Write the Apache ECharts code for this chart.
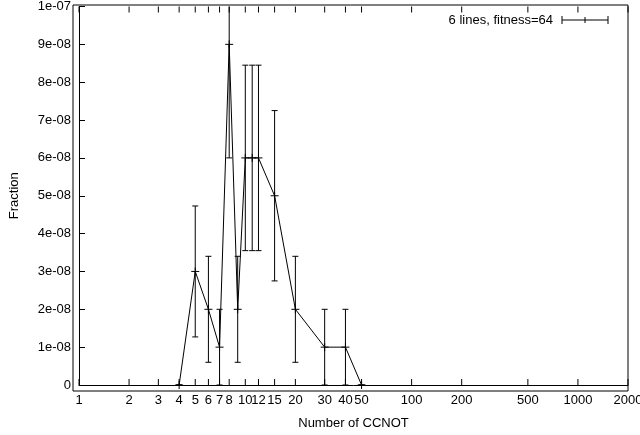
<!DOCTYPE html><html><head><meta charset="utf-8"><script src="https://cdn.jsdelivr.net/npm/echarts@6/dist/echarts.min.js"></script></head><body style="margin:0"><div id="c" style="width:640px;height:435px"></div><script>
const xs=[4,5,6,7,8,9,10,11,12,15,20,30,40,50];
const ys=[0,3e-8,2e-8,1e-8,9e-8,2e-8,6e-8,6e-8,6e-8,5e-8,2e-8,1e-8,1e-8,0];
const lo=[0,1.27e-8,0.6e-8,0,6e-8,0.6e-8,3.55e-8,3.55e-8,3.55e-8,2.75e-8,0.6e-8,0,0,0];
const hi=[0,4.73e-8,3.4e-8,2e-8,12e-8,3.4e-8,8.45e-8,8.45e-8,8.45e-8,7.25e-8,3.4e-8,2e-8,2e-8,0];
const xTicks=[1,2,3,4,5,6,7,8,10,12,15,20,30,40,50,100,200,500,1000,2000];
const yLabels=['0','1e-08','2e-08','3e-08','4e-08','5e-08','6e-08','7e-08','8e-08','9e-08','1e-07'];
const F='"Liberation Sans",Arial,sans-serif';
const ch=echarts.init(document.getElementById('c'));
ch.setOption({animation:false,
grid:{left:73,right:12,top:5,bottom:44},
xAxis:{type:'log',logBase:10,min:1,max:2000,axisLabel:{show:false},axisTick:{show:false},splitLine:{show:false},
 axisLine:{show:true,lineStyle:{color:'#000'}},name:'Number of CCNOT',nameLocation:'middle',nameGap:32,nameTextStyle:{fontFamily:F,fontSize:13,color:'#000'}},
yAxis:{type:'value',min:0,max:1e-7,interval:1e-8,axisLabel:{fontFamily:F,fontSize:13,color:'#000',formatter:(v)=>yLabels[Math.round(v/1e-8)]},
 axisTick:{inside:true,length:6,lineStyle:{color:'#000'}},splitLine:{show:false},axisLine:{show:true,lineStyle:{color:'#000'}},
 name:'Fraction',nameLocation:'middle',nameGap:58,nameTextStyle:{fontFamily:F,fontSize:13,color:'#000'}},
graphic:[{type:'rect',shape:{x:73,y:5,width:555,height:386},style:{fill:'none',stroke:'#000',lineWidth:1},silent:true},
 {type:'text',x:553,y:20,style:{text:'6 lines, fitness=64',font:'13px '+F,fill:'#000',align:'right',verticalAlign:'middle'}},
 {type:'line',shape:{x1:562,y1:20,x2:608,y2:20},style:{stroke:'#000'}},
 {type:'line',shape:{x1:562,y1:16,x2:562,y2:24},style:{stroke:'#000'}},
 {type:'line',shape:{x1:608,y1:16,x2:608,y2:24},style:{stroke:'#000'}},
 {type:'line',shape:{x1:585,y1:17,x2:585,y2:23},style:{stroke:'#000'}}],
series:[
{type:'line',data:xs.map((x,i)=>[x,ys[i]]),symbol:'path://M0,5L10,5M5,0L5,10',symbolSize:8,itemStyle:{color:'#000',borderColor:'#000',borderWidth:1},lineStyle:{color:'#000',width:1}},
{type:'custom',clip:true,data:xs.map((x,i)=>[x,lo[i],hi[i]]),renderItem:(p,api)=>{
 const a=api.coord([api.value(0),api.value(1)]),b=api.coord([api.value(0),api.value(2)]);const s={stroke:'#000',lineWidth:1};
 return {type:'group',children:[{type:'line',shape:{x1:a[0],y1:a[1],x2:b[0],y2:b[1]},style:s},
 {type:'line',shape:{x1:a[0]-3,y1:a[1],x2:a[0]+3,y2:a[1]},style:s},{type:'line',shape:{x1:b[0]-3,y1:b[1],x2:b[0]+3,y2:b[1]},style:s}]};}},
{type:'custom',clip:false,silent:true,data:xTicks.map(x=>[x]),renderItem:(p,api)=>{
 const a=api.coord([api.value(0),0]),b=api.coord([api.value(0),1e-7]);const s={stroke:'#000',lineWidth:1};
 return {type:'group',children:[{type:'line',shape:{x1:a[0],y1:a[1],x2:a[0],y2:a[1]-6},style:s},
 {type:'line',shape:{x1:b[0],y1:b[1],x2:b[0],y2:b[1]+6},style:s},
 {type:'text',x:a[0],y:a[1]+9,style:{text:String(api.value(0)),font:'13px '+F,fill:'#000',align:'center',verticalAlign:'top'}}]};}}
]});
</script></body></html>
